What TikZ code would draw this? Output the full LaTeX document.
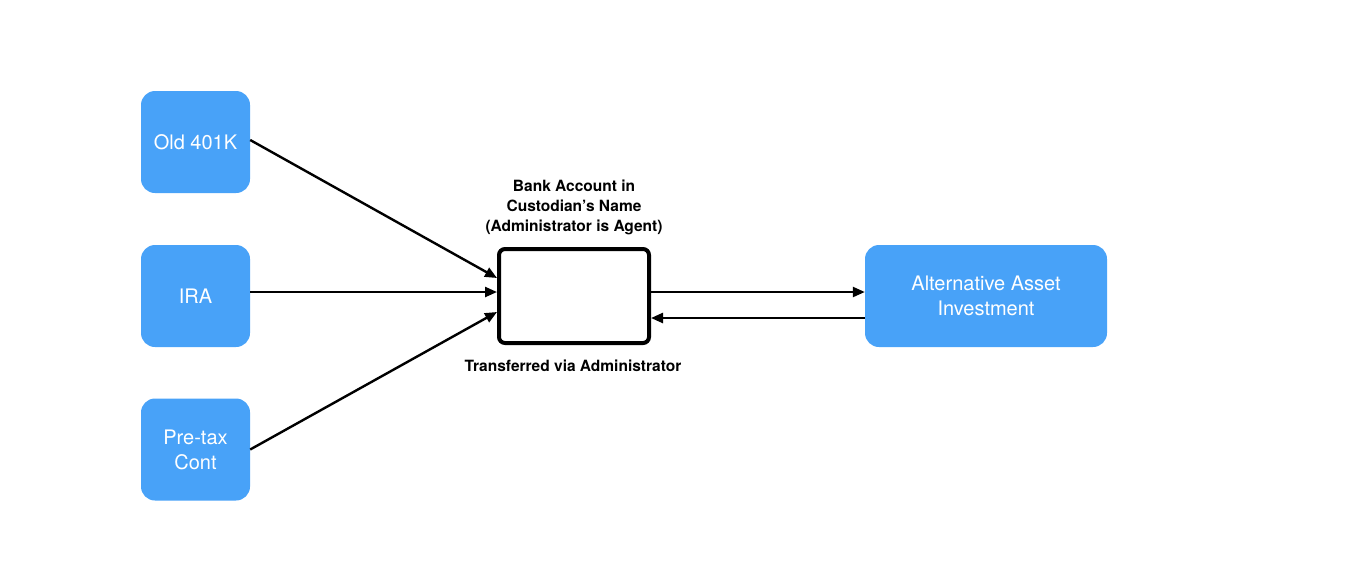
\documentclass[tikz,border=0pt]{standalone}
\usepackage{fontspec}
\setmainfont{TeX Gyre Heros}
\usetikzlibrary{arrows.meta}
\definecolor{boxblue}{HTML}{48A2F8}
\begin{document}
\begin{tikzpicture}[x=1pt,y=-1pt,
  src/.style={fill=boxblue, rounded corners=14pt, text=white, font=\fontsize{20}{25}\selectfont, align=center, minimum width=109pt, minimum height=102pt, inner sep=0pt},
  bankbox/.style={draw, line width=4pt, rounded corners=6pt, minimum width=150pt, minimum height=94pt, inner sep=0pt},
  conn/.style={line width=2.4pt, -{Triangle[length=12pt,width=10pt]}},
  lbl/.style={font=\bfseries\fontsize{15.5}{20}\selectfont, align=center}]
\useasboundingbox (0,0) rectangle (1348,566);
\node[src] (old) at (195.5,142) {Old 401K};
\node[src] (ira) at (195.5,296) {IRA};
\node[src] (pre) at (195.5,449.5) {Pre-tax\\Cont};
\node[bankbox] (bank) at (574,296) {};
\node[src, minimum width=242pt] (alt) at (986,296) {Alternative Asset\\Investment};
\node[lbl] (banklbl) at (574,207) {Bank Account in\\Custodian's Name\\(Administrator is Agent)};
\node[lbl] (translbl) at (573,366) {Transferred via Administrator};
\draw[conn] ([yshift=2pt]old.east) -- ([yshift=18pt]bank.west);
\draw[conn] ([yshift=4pt]ira.east) -- ([yshift=4pt]bank.west);
\draw[conn] (pre.east) -- ([yshift=-16pt]bank.west);
\draw[conn] ([yshift=4pt]bank.east) -- ([yshift=4pt]alt.west);
\draw[conn] ([yshift=-22pt]alt.west) -- ([yshift=-22pt]bank.east);
\end{tikzpicture}
\end{document}
